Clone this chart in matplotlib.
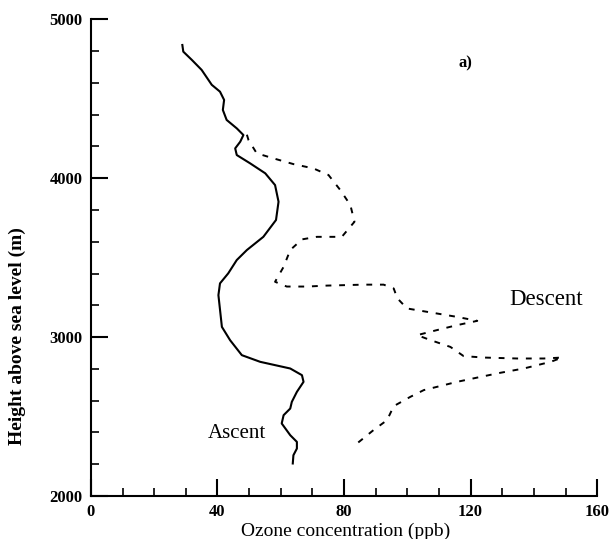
import matplotlib
matplotlib.use("Agg")
import matplotlib.pyplot as plt
from matplotlib.ticker import MultipleLocator

# ozone profiles: concentration (ppb) vs height above sea level (m)
ascent_ppb = [28.9, 29.2, 31.9, 35.0, 38.2, 40.8, 42.1, 41.7, 42.9, 46.1, 48.2, 47.2,
              45.6, 46.1, 50.3, 55.1, 58.2, 59.3, 58.5, 54.5, 49.3, 46.1, 43.4, 40.8,
              40.3, 41.4, 44.0, 47.7, 53.5, 63.0, 66.7, 67.2, 65.1, 63.5, 63.0, 60.9,
              60.3, 63.0, 65.1, 65.1, 64.0, 63.8]
ascent_m = [4839, 4797, 4745, 4682, 4588, 4545, 4493, 4430, 4367, 4314, 4272, 4230,
            4188, 4146, 4094, 4031, 3957, 3852, 3737, 3631, 3548, 3485, 3401, 3338,
            3264, 3064, 2980, 2886, 2844, 2802, 2760, 2718, 2655, 2592, 2550, 2508,
            2456, 2382, 2340, 2298, 2256, 2204]

descent_ppb = [49.3, 49.8, 52.4, 57.7, 64.0, 70.3, 75.1, 78.8, 82.0, 83.3, 79.3, 71.4,
               66.7, 63.0, 60.9, 58.2, 61.9, 68.3, 74.6, 86.2, 92.5, 95.7, 96.8, 99.9,
               106.2, 115.7, 122.1, 115.7, 109.4, 103.1, 107.3, 113.6, 117.8, 124.1,
               134.7, 143.1, 148.9, 145.3, 136.8, 129.4, 123.1, 115.7, 111.5, 105.2,
               100.9, 95.7, 93.6, 89.3, 84.1]
descent_m = [4274, 4241, 4157, 4125, 4089, 4062, 4020, 3926, 3831, 3726, 3631, 3631,
             3615, 3548, 3442, 3348, 3318, 3318, 3324, 3330, 3330, 3306, 3245, 3180,
             3159, 3127, 3102, 3075, 3044, 3012, 2981, 2938, 2880, 2871,
             2865, 2865, 2871, 2844, 2802, 2775, 2749, 2718, 2697, 2666,
             2623, 2565, 2477, 2414, 2330]

plt.rcParams['font.family'] = ['Liberation Serif', 'DejaVu Serif']

fig = plt.figure(figsize=(6.1, 5.39), dpi=100)
ax = fig.add_axes([0.149, 0.080, 0.830, 0.884])

ax.plot(ascent_ppb, ascent_m, color='black', lw=1.5)
ax.plot(descent_ppb, descent_m, color='black', lw=1.4, linestyle=(0, (3, 4)))

ax.set_xlim(0, 160)
ax.set_ylim(2000, 5000)
ax.xaxis.set_major_locator(MultipleLocator(40))
ax.xaxis.set_minor_locator(MultipleLocator(10))
ax.yaxis.set_major_locator(MultipleLocator(1000))
ax.yaxis.set_minor_locator(MultipleLocator(200))

for side in ['top', 'right']:
    ax.spines[side].set_visible(False)
for side in ['left', 'bottom']:
    ax.spines[side].set_linewidth(1.5)

ax.tick_params(which='major', direction='in', length=12, width=1.5, pad=6,
               labelsize=12)
ax.tick_params(which='minor', direction='in', length=6, width=1.2)
for lab in ax.get_xticklabels() + ax.get_yticklabels():
    lab.set_fontweight('bold')

ax.set_xlabel('Ozone concentration (ppb)', fontsize=14)
ax.set_ylabel('Height above sea level (m)', fontsize=14, fontweight='bold')
ax.xaxis.set_label_coords(0.504, -0.057)
ax.yaxis.set_label_coords(-0.128, 0.336)

ax.text(118.4, 4720, 'a)', fontsize=12, fontweight='bold', ha='center', va='center')
ax.text(46.2, 2395, 'Ascent', fontsize=15, ha='center', va='center')
ax.text(143.7, 3239, 'Descent', fontsize=16.5, ha='center', va='center')

fig.savefig('out.png', dpi=100)
